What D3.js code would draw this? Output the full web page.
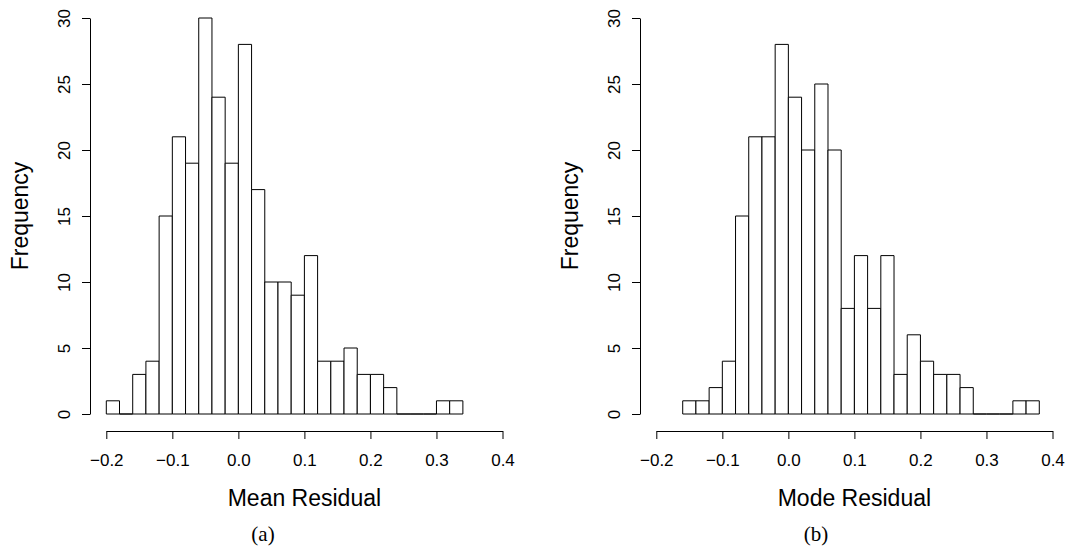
<!DOCTYPE html>
<html>
<head>
<meta charset="utf-8">
<script src="https://cdn.jsdelivr.net/npm/d3@7"></script>
<style>
  html, body { margin: 0; padding: 0; background: #fff; }
  svg { display: block; font-family: "Liberation Sans", Arial, Helvetica, sans-serif; }
</style>
</head>
<body>
<div id="chart"></div>
<script>
// histogram (a): bins of width 0.02 starting at -0.20
const meanStart = -0.2;
const meanCounts = [1, 0, 3, 4, 15, 21, 19, 30, 24, 19, 28, 17, 10, 10, 9, 12, 4, 4, 5, 3, 3, 2, 0, 0, 0, 1, 1];

// histogram (b): bins of width 0.02 starting at -0.16
const modeStart = -0.16;
const modeCounts = [1, 1, 2, 4, 15, 21, 21, 28, 24, 20, 25, 20, 8, 12, 8, 12, 3, 6, 4, 3, 3, 2, 0, 0, 0, 1, 1];

const binWidth = 0.02;
const xTicks = [-0.2, -0.1, 0.0, 0.1, 0.2, 0.3, 0.4];
const yTicks = [0, 5, 10, 15, 20, 25, 30];

const panels = [
  { start: meanStart, counts: meanCounts, xLabel: "Mean Residual", caption: "(a)", left: 90, captionX: 263 },
  { start: modeStart, counts: modeCounts, xLabel: "Mode Residual", caption: "(b)", left: 640, captionX: 816 }
];

const width = 1066;
const height = 550;

const svg = d3.select("#chart")
  .append("svg")
  .attr("width", width)
  .attr("height", height)
  .attr("viewBox", `0 0 ${width} ${height}`);

function drawHist(p) {
  // plot region: y axis sits at p.left, x axis starts 16px to its right
  const x = d3.scaleLinear()
    .domain([-0.2, 0.4])
    .range([p.left + 16.3, p.left + 412.5]);

  const y = d3.scaleLinear()
    .domain([0, 30])
    .range([414, 18]);

  const bins = p.counts.map((c, i) => ({
    x0: p.start + i * binWidth,
    x1: p.start + (i + 1) * binWidth,
    count: c
  }));

  const g = svg.append("g");

  // bars as closed outlines, so empty bins still show as a flat line (like R's hist)
  g.append("g")
    .attr("fill", "#fff")
    .attr("stroke", "#000")
    .attr("stroke-width", 1)
    .selectAll("path")
    .data(bins)
    .join("path")
    .attr("d", d => {
      const a = x(d.x0), b = x(d.x1), t = y(d.count), z = y(0);
      return `M${a},${z}V${t}H${b}V${z}Z`;
    });

  // x axis, R style: detached below the plot
  g.append("g")
    .attr("transform", "translate(0,431)")
    .call(d3.axisBottom(x)
      .tickValues(xTicks)
      .tickFormat(d3.format(".1f"))
      .tickSize(8)
      .tickSizeOuter(0))
    .call(a => a.select(".domain").attr("stroke", "#000"))
    .call(a => a.selectAll("line").attr("stroke", "#000"))
    .call(a => a.selectAll("text")
      .attr("font-size", 17)
      .attr("fill", "#000")
      .attr("dy", null)
      .attr("y", 35));

  // y axis with rotated labels
  g.append("g")
    .attr("transform", `translate(${p.left},0)`)
    .call(d3.axisLeft(y)
      .tickValues(yTicks)
      .tickSize(8)
      .tickSizeOuter(0))
    .call(a => a.select(".domain").attr("stroke", "#000"))
    .call(a => a.selectAll("line").attr("stroke", "#000"))
    .call(a => a.selectAll("text")
      .attr("font-size", 17)
      .attr("fill", "#000")
      .attr("x", null)
      .attr("dy", null)
      .attr("text-anchor", "middle")
      .attr("transform", "translate(-20,0) rotate(-90)"));

  // axis titles
  const [r0, r1] = x.range();
  g.append("text")
    .attr("x", (r0 + r1) / 2)
    .attr("y", 506)
    .attr("text-anchor", "middle")
    .attr("font-size", 23)
    .text(p.xLabel);

  g.append("text")
    .attr("transform", `translate(${p.left - 62},216) rotate(-90)`)
    .attr("text-anchor", "middle")
    .attr("font-size", 23)
    .text("Frequency");

  // sub-figure caption
  g.append("text")
    .attr("x", p.captionX)
    .attr("y", 541)
    .attr("text-anchor", "middle")
    .attr("font-family", "'Liberation Serif', 'Times New Roman', serif")
    .attr("font-size", 21)
    .text(p.caption);
}

panels.forEach(drawHist);
</script>
</body>
</html>
